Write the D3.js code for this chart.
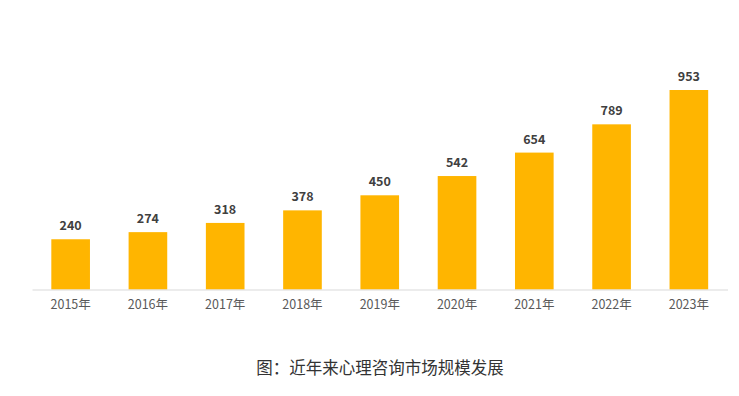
<!DOCTYPE html>
<html>
<head>
<meta charset="utf-8">
<script src="https://cdn.jsdelivr.net/npm/d3@7.9.0/dist/d3.min.js"></script>
<style>
  html, body { margin: 0; padding: 0; background: #fff; }
  svg { display: block; font-family: "Noto Sans CJK SC", "Noto Sans", sans-serif; }
</style>
</head>
<body>
<svg id="chart" width="739" height="396"></svg>
<script>
const years = ['2015年', '2016年', '2017年', '2018年', '2019年', '2020年', '2021年', '2022年', '2023年'];
const values = [240, 274, 318, 378, 450, 542, 654, 789, 953];
const title = '图：近年来心理咨询市场规模发展';

const svg = d3.select('#chart');

const xScale = d3.scaleBand()
  .domain(years)
  .range([32, 727.5])
  .paddingInner(0.5)
  .paddingOuter(0.25);

const yScale = d3.scaleLinear()
  .domain([0, 953])
  .range([289.5, 90]);

// bars
svg.append('g')
  .selectAll('rect')
  .data(values)
  .join('rect')
  .attr('x', (d, i) => xScale(years[i]))
  .attr('y', (d) => yScale(d))
  .attr('width', xScale.bandwidth())
  .attr('height', (d) => yScale(0) - yScale(d))
  .attr('fill', '#ffb500');

// value labels
svg.append('g')
  .selectAll('text')
  .data(values)
  .join('text')
  .attr('x', (d, i) => xScale(years[i]) + xScale.bandwidth() / 2)
  .attr('y', (d) => yScale(d) - 9)
  .attr('text-anchor', 'middle')
  .attr('font-size', 12.5)
  .attr('font-weight', 'bold')
  .attr('fill', '#404040')
  .text((d) => d);

// x axis
const xAxis = svg.append('g')
  .attr('transform', `translate(0, ${yScale(0)})`)
  .call(d3.axisBottom(xScale).tickSize(0).tickPadding(11));
xAxis.select('.domain').attr('stroke', '#d9d9d9');
xAxis.selectAll('text')
  .attr('font-size', 12.5)
  .attr('fill', '#595959')
  .style('font-family', '"Noto Sans CJK SC", sans-serif');

// caption
svg.append('text')
  .attr('x', 380)
  .attr('y', 374)
  .attr('text-anchor', 'middle')
  .attr('font-size', 16.5)
  .attr('fill', '#333')
  .text(title);
</script>
</body>
</html>
